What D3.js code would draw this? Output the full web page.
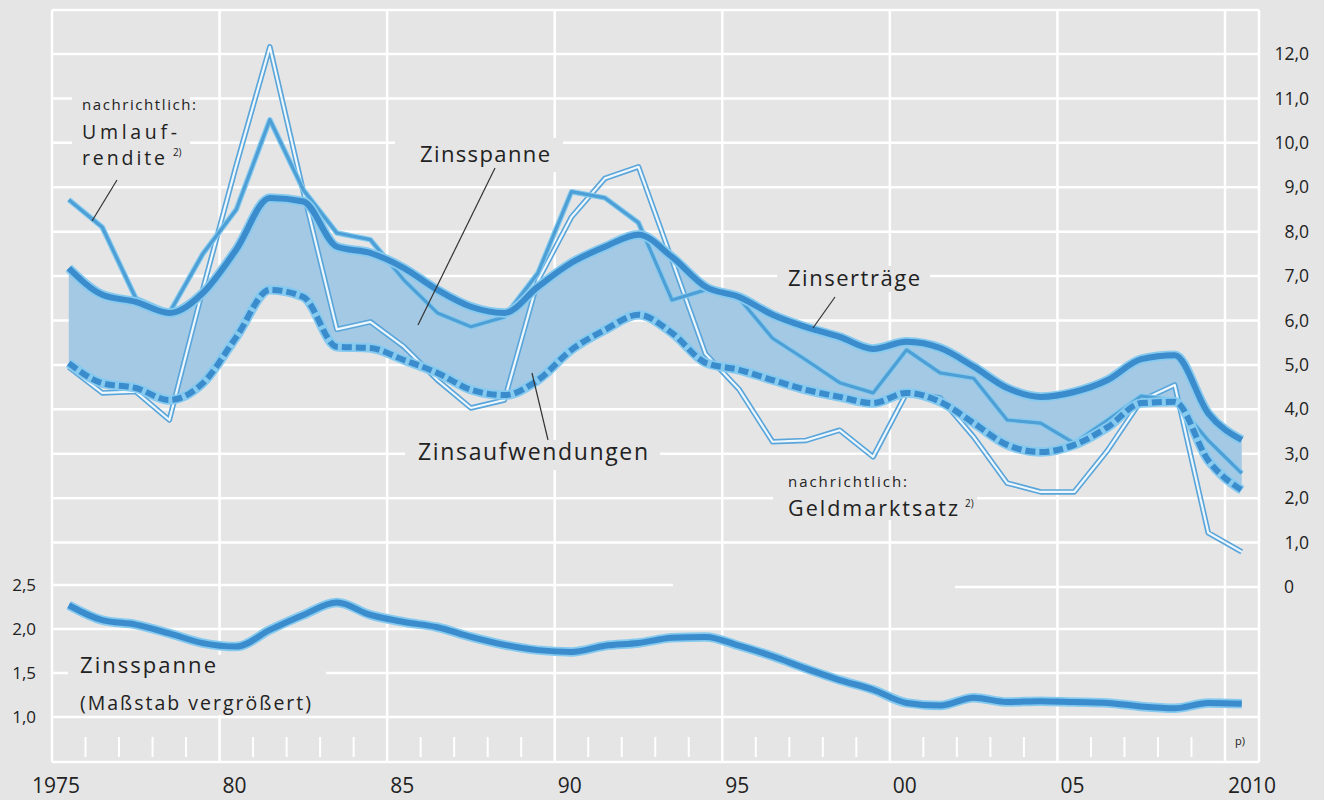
<!doctype html>
<html lang="de">
<head>
<meta charset="utf-8"/>
<title>Zinsspanne</title>
<script src="https://d3js.org/d3.v7.min.js"></script>
<style>
  body { margin: 0; background: #e5e5e5; }
  svg { display: block; font-family: "Open Sans", "Noto Sans", sans-serif; }
  .lbl { fill: #222; }
</style>
</head>
<body>
<svg id="chart"></svg>
<script>
    // years 1975 .. 2010, values in % (plotted at mid-year)
    const years = d3.range(1975, 2011);

    const zinsertraege = [7.18, 6.58, 6.42, 6.17, 6.62, 7.6, 8.76, 8.68, 7.66, 7.52,
        7.18, 6.69, 6.31, 6.17, 6.76, 7.3, 7.66, 7.93, 7.43, 6.76,
        6.53, 6.13, 5.85, 5.63, 5.36, 5.52, 5.38, 4.96, 4.48, 4.28,
        4.39, 4.66, 5.13, 5.22, 3.91, 3.31];

    const zinsaufwendungen = [5.04, 4.59, 4.48, 4.21, 4.59, 5.63, 6.69, 6.53, 5.41, 5.38,
        5.11, 4.82, 4.44, 4.32, 4.66, 5.34, 5.79, 6.13, 5.72, 5.05,
        4.89, 4.66, 4.44, 4.28, 4.14, 4.37, 4.17, 3.69, 3.2, 3.04,
        3.2, 3.6, 4.14, 4.17, 2.85, 2.18];

    const umlaufrendite = [8.72, 8.1, 6.5, 6.17, 7.5, 8.5, 10.52, 8.94, 7.97, 7.82,
        6.91, 6.17, 5.86, 6.08, 7.07, 8.9, 8.76, 8.2, 6.46, 6.69,
        6.5, 5.6, 5.11, 4.6, 4.37, 5.34, 4.82, 4.7, 3.76, 3.69,
        3.24, 3.76, 4.3, 4.2, 3.3, 2.56];

    const geldmarktsatz = [4.95, 4.37, 4.4, 3.76, 6.7, 9.5, 12.16, 8.9, 5.8, 5.97,
        5.41, 4.66, 4.03, 4.21, 6.9, 8.33, 9.2, 9.46, 7.36, 5.25,
        4.45, 3.27, 3.3, 3.53, 2.93, 4.37, 4.26, 3.38, 2.34, 2.14,
        2.14, 3.08, 4.2, 4.55, 1.22, 0.79];

    const zinsspanne = [2.27, 2.1, 2.05, 1.95, 1.84, 1.8, 1.99, 2.16, 2.3, 2.16,
        2.08, 2.02, 1.91, 1.82, 1.76, 1.74, 1.81, 1.84, 1.9, 1.91,
        1.81, 1.69, 1.55, 1.42, 1.31, 1.16, 1.13, 1.22, 1.17, 1.18,
        1.17, 1.16, 1.12, 1.1, 1.16, 1.15];

    const topTicks = d3.range(0, 13);
    const bottomTicks = [1.0, 1.5, 2.0, 2.5];
    const yearLabels = [[1975, "1975"], [1980, "80"], [1985, "85"], [1990, "90"],
        [1995, "95"], [2000, "00"], [2005, "05"], [2010, "2010"]];

    const width = 1324, height = 800;
    const bg = "#e5e5e5";
    const blue = "#3b8ccd", halo = "#86caef", band = "#a4c9e4";

    const svg = d3.select("#chart").attr("width", width).attr("height", height);
    svg.append("rect").attr("width", width).attr("height", height).attr("fill", bg);

    const pLeft = 52, pRight = 1259, pTop = 10, pBottom = 762;
    const x = d3.scaleLinear().domain([1975, 2010]).range([52, 1225]);
    const yTop = d3.scaleLinear().domain([0, 12]).range([587, 54]);
    const yBot = d3.scaleLinear().domain([1.0, 2.5]).range([717, 585]);
    const xm = i => x(years[i] + 0.5);

    // grid
    const grid = svg.append("g").attr("stroke", "#fff").attr("stroke-width", 2.5);
    topTicks.filter(d => d > 0).forEach(d => {
        grid.append("line").attr("x1", pLeft).attr("x2", pRight).attr("y1", yTop(d)).attr("y2", yTop(d));
    });
    grid.append("line").attr("x1", 955).attr("x2", pRight).attr("y1", yTop(0)).attr("y2", yTop(0));
    bottomTicks.forEach(d => {
        grid.append("line").attr("x1", pLeft).attr("x2", d === 2.5 ? 673 : pRight)
            .attr("y1", yBot(d)).attr("y2", yBot(d));
    });
    d3.range(1975, 2011, 5).forEach(yr => {
        grid.append("line").attr("x1", x(yr)).attr("x2", x(yr)).attr("y1", pTop).attr("y2", pBottom);
    });
    grid.append("line").attr("x1", pLeft).attr("x2", pRight).attr("y1", pTop).attr("y2", pTop);
    grid.append("line").attr("x1", pLeft).attr("x2", pRight).attr("y1", pBottom).attr("y2", pBottom);
    grid.append("line").attr("x1", pRight).attr("x2", pRight).attr("y1", pTop).attr("y2", pBottom);
    // year ticks
    years.filter(yr => yr % 5 !== 0).forEach(yr => {
        grid.append("line").attr("x1", x(yr)).attr("x2", x(yr)).attr("y1", 737).attr("y2", 757)
            .attr("stroke-width", 2);
    });

    // gaps behind labels
    const gaps = [[72, 90, 118, 80], [395, 138, 168, 34], [777, 266, 153, 26],
        [405, 440, 255, 30], [773, 470, 204, 50], [68, 655, 258, 60]];
    gaps.forEach(g => svg.append("rect").attr("x", g[0]).attr("y", g[1])
        .attr("width", g[2]).attr("height", g[3]).attr("fill", bg));

    // band between Zinserträge and Zinsaufwendungen
    const area = d3.area().x((d, i) => xm(i))
        .y0((d, i) => yTop(zinsaufwendungen[i])).y1(d => yTop(d))
        .curve(d3.curveMonotoneX);
    svg.append("path").datum(zinsertraege).attr("d", area).attr("fill", band);

    const lineTop = d3.line().x((d, i) => xm(i)).y(d => yTop(d));
    const smoothTop = d3.line().x((d, i) => xm(i)).y(d => yTop(d)).curve(d3.curveMonotoneX);
    const lineBot = d3.line().x((d, i) => xm(i)).y(d => yBot(d)).curve(d3.curveMonotoneX);

    function draw(data, gen, color, w, extra) {
        const p = svg.append("path").datum(data).attr("d", gen).attr("fill", "none")
            .attr("stroke", color).attr("stroke-width", w)
            .attr("stroke-linejoin", "round").attr("stroke-linecap", "butt");
        if (extra) extra(p);
        return p;
    }

    // Geldmarktsatz: double line
    draw(geldmarktsatz, lineTop, "#5aa5da", 5.5);
    draw(geldmarktsatz, lineTop, "#eef7fc", 2.2);

    // Umlaufrendite
    draw(umlaufrendite, lineTop, halo, 5.5);
    draw(umlaufrendite, lineTop, "#4d9fd6", 3.2);

    // Zinserträge and Zinsaufwendungen
    draw(zinsertraege, smoothTop, halo, 9.5);
    draw(zinsertraege, smoothTop, blue, 6);
    draw(zinsaufwendungen, smoothTop, halo, 9.5);
    draw(zinsaufwendungen, smoothTop, blue, 6, p => p.attr("stroke-dasharray", "10,4"));

    // lower panel
    draw(zinsspanne, lineBot, halo, 9.5);
    draw(zinsspanne, lineBot, blue, 6);

    // axes
    const fmt = d => d3.format(".1f")(d).replace(".", ",");
    const rAxis = svg.append("g").attr("transform", "translate(1309,0)")
        .call(d3.axisRight(yTop).tickValues(topTicks).tickSize(0)
            .tickFormat(d => d === 0 ? "0" : fmt(d)));
    rAxis.select(".domain").remove();
    rAxis.selectAll("text").attr("x", 0).attr("text-anchor", "end")
        .attr("font-size", 17.5).attr("fill", "#222").attr("font-family", "'Open Sans', sans-serif")
        .attr("dx", d => d === 0 ? -15 : 0);

    const lAxis = svg.append("g").attr("transform", "translate(36,0)")
        .call(d3.axisLeft(yBot).tickValues(bottomTicks).tickSize(0).tickFormat(fmt));
    lAxis.select(".domain").remove();
    lAxis.selectAll("text").attr("x", 0).attr("font-size", 17).attr("fill", "#222")
        .attr("font-family", "'Open Sans', sans-serif");

    yearLabels.forEach(([yr, t]) => {
        svg.append("text").attr("class", "lbl")
            .attr("x", yr === 1975 ? 32 : x(yr) + 3).attr("y", 793)
            .attr("font-size", 21).text(t);
    });
    svg.append("text").attr("class", "lbl").attr("x", 1235).attr("y", 745)
        .attr("font-size", 11).text("p)");

    // annotations: lines = [text, baseline, size, width, sup]
    function label(tx, lines) {
        const t = svg.append("text").attr("class", "lbl");
        lines.forEach(([txt, ty, size, w, sup]) => {
            t.append("tspan").attr("x", tx).attr("y", ty).attr("font-size", size)
                .attr("textLength", w).attr("lengthAdjust", "spacing").text(txt);
            if (sup) t.append("tspan").attr("font-size", 10).attr("dx", 5).attr("dy", -9).text(sup);
        });
    }
    function leader(x1, y1, x2, y2) {
        svg.append("line").attr("x1", x1).attr("y1", y1).attr("x2", x2).attr("y2", y2)
            .attr("stroke", "#333").attr("stroke-width", 1.2);
    }
    label(82, [["nachrichtlich:", 110, 15, 114], ["Umlauf-", 139, 19.5, 95],
        ["rendite", 165, 19.5, 83, "2)"]]);
    leader(117, 180, 92, 221);

    label(420, [["Zinsspanne", 162, 22, 130]]);
    leader(495, 168, 418, 325);

    label(788, [["Zinserträge", 286, 22, 132]]);
    leader(835, 297, 813, 328);

    label(418, [["Zinsaufwendungen", 460, 23, 230]]);
    leader(548, 440, 532, 373);

    label(788, [["nachrichtlich:", 487, 15, 119], ["Geldmarktsatz", 516, 21.5, 170, "2)"]]);

    label(80, [["Zinsspanne", 673, 22, 136], ["(Maßstab vergrößert)", 710, 19.5, 231]]);
</script>
</body>
</html>
